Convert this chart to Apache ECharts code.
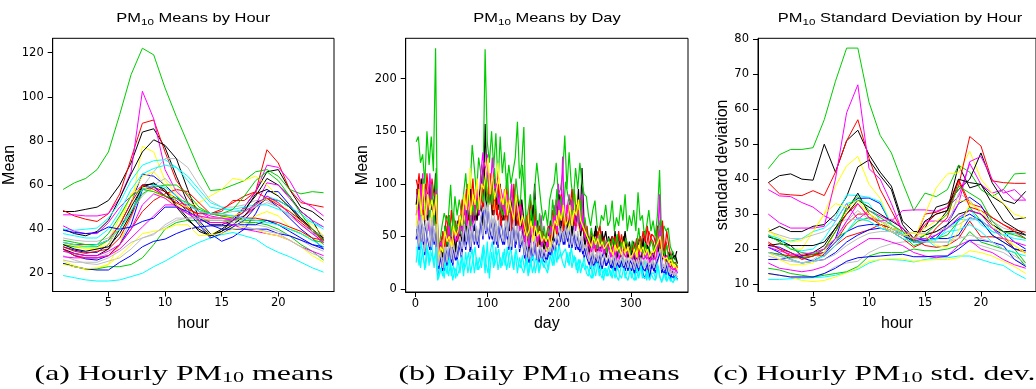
<!DOCTYPE html>
<html>
<head>
<meta charset="utf-8">
<script src="https://cdn.jsdelivr.net/npm/echarts@6/dist/echarts.min.js"></script>
<style>
  html, body { margin: 0; padding: 0; background: #fff; }
  #main { width: 1036px; height: 389px; }
</style>
</head>
<body>
<div id="main"></div>
<script>
// x values
const hours = [1, 2, 3, 4, 5, 6, 7, 8, 9, 10, 11, 12, 13, 14, 15, 16, 17, 18, 19, 20, 21, 22, 23, 24];
const days = Array.from({ length: 122 }, (_, i) => 1 + 3 * i);  // days 1, 4, ..., 364
const days2 = Array.from({ length: 122 }, (_, i) => 2 + 3 * i); // days 2, 5, ..., 365

// tick labels
const hourTicks = [5, 10, 15, 20];
const meanTicks = [20, 40, 60, 80, 100, 120];
const dayTicks = [0, 100, 200, 300];
const dayMeanTicks = [0, 50, 100, 150, 200];
const sdTicks = [10, 20, 30, 40, 50, 60, 70, 80];

// R default palette, stations cycle through it
const palette = ['#000000', '#FF0000', '#00CD00', '#0000FF', '#00FFFF', '#FF00FF', '#FFFF00', '#BEBEBE'];

// (a) hourly means, 4 stations per colour
const meansBlack = [
  [48, 48, 49, 50, 53, 60, 70, 84, 85.5, 77, 64, 52, 43, 37, 39, 44, 50, 57, 66, 67, 58, 50, 48, 44],
  [40, 38, 37, 39, 44, 54, 65, 75, 80.5, 78, 72, 58, 45, 42, 42, 44, 49, 55, 63, 60, 55, 48, 44, 35],
  [31, 29, 28, 28, 31, 40, 50, 59, 61, 57, 51, 45, 39, 37, 39, 42, 46, 52, 54, 53, 50, 45, 40, 36],
  [33, 31, 30, 31, 32, 38, 47, 60, 60.5, 58, 50, 44, 40, 37, 40, 44, 48, 56, 58, 55, 50, 44, 40, 35]
];
const meansRed = [
  [48.5, 46, 44.5, 43.5, 47, 56, 72, 88, 89.5, 75, 62, 55, 48, 47, 48, 53, 53, 57, 76, 70, 58, 52, 51, 50],
  [32, 30, 29, 30, 31, 36, 46, 58, 59, 57, 54, 50, 46, 43, 43, 44, 46, 50, 54, 52, 47, 43, 39, 36],
  [31, 28, 27, 27, 28, 33, 40, 48, 53, 56, 58, 57, 52, 47, 46, 46, 45, 45, 44, 43, 41, 39, 36, 35],
  [34, 33, 33, 33, 35, 42, 52, 60, 58, 55, 52, 49, 47, 47, 49, 52, 55, 57, 54, 51, 48, 44, 40, 34]
];
const meansGreen = [
  [58, 61, 63, 67, 75, 92, 110, 122, 119, 104, 91, 79, 67, 57.5, 58, 60, 62, 66, 67, 64, 58, 56, 57, 56.5],
  [24.5, 23, 22, 22, 23, 23, 24, 27, 33, 40, 43, 44, 44, 44, 44, 44, 43, 43, 42, 40, 37, 33, 30, 26],
  [33, 32, 32, 32, 35, 40, 48, 56, 59, 60, 60, 56, 50, 47, 46, 45, 44, 44, 44, 42, 40, 38, 35, 34],
  [35, 34, 33, 33, 38, 46, 55, 58, 57, 55, 54, 52, 49, 47, 47, 49, 55, 62, 66, 62, 55, 47, 40, 35]
];
const meansBlue = [
  [32, 30.5, 29.5, 29.5, 33, 42, 52, 65, 64, 60, 55, 49, 44, 38, 34.5, 36.5, 40, 47, 57, 57, 51, 45, 39, 33],
  [31, 28, 26.5, 26, 28, 33, 42, 58, 59.5, 55, 53, 48, 42, 36, 38, 41, 44, 50, 54, 50, 45, 40, 36, 31],
  [24.5, 23, 22, 21.5, 21.5, 25, 28, 32, 34.5, 35.5, 38, 40, 41, 41.5, 41.5, 42, 42, 42, 44, 42, 39, 36, 33, 31],
  [39.5, 38.5, 38, 38.5, 41, 40, 41, 43.5, 45, 50, 50, 48, 45, 42, 40, 40, 40, 40, 40, 38, 37, 35, 33, 32]
];
const meansCyan = [
  [19, 18, 17, 16.5, 16.5, 17, 18.5, 20, 23, 25.5, 28.5, 31.5, 34, 36, 37.5, 38.5, 37, 35.5, 32, 29.5, 27.5, 25, 22.5, 20.5],
  [40, 39.5, 40, 40.5, 45, 52, 62, 69, 71, 71.5, 68, 62, 56, 50, 49, 49, 50, 51, 51, 49, 47, 45, 43, 41],
  [38, 37, 36, 36, 40, 48, 58, 65, 67.5, 69, 68, 64, 58, 52, 50, 48, 48, 51, 55, 53, 50, 47, 43, 40],
  [34, 33, 32, 33, 35, 40, 48, 58, 60, 59, 55, 51, 48, 47, 47, 46, 45, 44, 43, 42, 40, 38, 35, 32]
];
const meansMagenta = [
  [46.5, 46.5, 46, 46, 47, 54, 66, 102.5, 90, 67, 57, 52, 48, 45, 45, 45, 50, 57, 69, 68, 62, 53, 50, 46],
  [41.5, 39, 38, 38, 43, 50, 55, 60, 59, 55, 52, 51, 48, 46, 45, 44, 46, 51, 61, 60, 54, 48, 44, 41],
  [27.5, 27, 27, 27, 28, 31, 36, 41, 46, 51, 51, 47, 44, 43, 43, 42, 40, 39, 38, 37, 35, 32, 30, 28],
  [30, 29, 28, 28, 30, 33, 40, 51, 56, 54, 50, 47, 46, 45, 45, 44, 48, 51, 55, 52, 47, 42, 38, 34]
];
const meansYellow = [
  [25.5, 23.5, 21.5, 22, 24, 33, 50, 77.5, 75, 62, 56, 50, 43, 37.5, 40, 41, 43, 46, 48, 46, 41, 38, 36, 33],
  [33, 32, 31, 31, 35, 45, 55, 64, 66, 60, 52, 50, 52, 55, 58, 63, 62, 64, 60, 55, 50, 45, 42, 37],
  [34, 32.5, 31.5, 31, 33, 42, 56, 59, 57, 54, 51, 48, 45, 45, 45, 46, 48, 51, 54, 52, 48, 44, 40, 35],
  [24, 23, 22, 22.5, 24, 28, 33, 38, 39, 40, 42, 42, 37, 37.5, 38, 40, 41, 40, 38, 37, 35, 32, 28, 25]
];
const meansGray = [
  [30, 28.5, 27, 27, 29, 33, 45, 59, 66, 72, 72, 68, 60, 53, 50, 50, 51, 53, 53, 50, 46, 42, 38, 35],
  [28, 26, 24.5, 24, 25.5, 27, 31, 36, 37.5, 42, 45, 45, 46, 45, 45, 44, 43, 42, 41, 39, 37, 35, 32, 30],
  [36, 35, 34.5, 34.5, 36, 42, 48, 55, 60, 63, 58, 52, 48, 47, 47, 48, 49, 50, 52, 50, 46, 42, 39, 37],
  [26, 25, 25, 25, 27, 30, 34, 36, 38, 41, 44, 45, 45, 44, 44, 43, 41, 40, 39, 38, 35, 32, 29, 27]
];

// (b) daily means, two traces per colour: first on days 1,4,..., second on days 2,5,...
const dayBlack = [
  80, 100, 70, 95, 60, 75, 65, 90, 70, 110,   20, 30, 40, 35, 55, 40, 50, 35, 60, 45,
  55, 45, 65, 50, 75, 60, 70, 55, 85, 70,     80, 60, 157, 95, 85, 110, 70, 90, 75, 100,
  70, 85, 60, 75, 65, 80, 90, 70, 60, 85,     65, 40, 50, 70, 55, 100, 45, 60, 40, 50,
  40, 35, 55, 60, 50, 80, 75, 55, 65, 45,     70, 60, 80, 90, 65, 75, 55, 115, 60, 45,
  50, 40, 45, 55, 35, 40, 50, 45, 55, 40,     45, 50, 35, 40, 50, 30, 40, 55, 35, 45,
  30, 45, 25, 40, 50, 30, 55, 35, 40, 30,     25, 40, 60, 45, 30, 35, 25, 30, 20, 36,
  28, 36
];
const dayBlack2 = [
  95, 70, 105, 80, 90, 65, 100, 75, 85, 60,   25, 45, 30, 60, 40, 70, 45, 55, 35, 65,
  50, 70, 45, 80, 60, 95, 55, 75, 65, 90,     100, 120, 85, 75, 95, 70, 105, 80, 90, 70,
  65, 90, 75, 55, 80, 95, 60, 85, 70, 55,     45, 60, 35, 55, 80, 50, 65, 40, 55, 35,
  50, 45, 65, 40, 70, 55, 90, 60, 75, 55,     60, 85, 50, 70, 60, 95, 50, 65, 40, 55,
  35, 50, 40, 60, 45, 35, 55, 40, 30, 50,     40, 35, 55, 30, 45, 35, 50, 40, 30, 38,
  35, 28, 45, 38, 25, 48, 30, 42, 28, 35,     30, 45, 35, 50, 28, 40, 22, 35, 25, 30,
  32, 24
];
const dayRed = [
  104, 95, 80, 100, 75, 110, 85, 95, 70, 80,  25, 40, 50, 45, 70, 55, 60, 40, 55, 50,
  70, 55, 80, 65, 100, 75, 85, 60, 90, 80,    95, 75, 110, 90, 100, 85, 70, 95, 65, 75,
  80, 65, 100, 70, 85, 60, 75, 90, 55, 70,    60, 45, 55, 85, 60, 70, 50, 55, 40, 55,
  45, 40, 50, 60, 55, 85, 70, 75, 60, 50,     80, 65, 70, 90, 75, 60, 70, 55, 65, 50,
  45, 35, 50, 40, 55, 45, 38, 50, 42, 40,     38, 50, 45, 35, 55, 40, 45, 35, 42, 38,
  35, 42, 30, 45, 50, 40, 38, 42, 55, 48,     45, 35, 50, 40, 60, 30, 45, 32, 25, 20,
  18, 22
];
const dayRed2 = [
  90, 110, 85, 70, 100, 90, 75, 105, 88, 95,  35, 30, 55, 40, 60, 45, 75, 50, 65, 45,
  60, 85, 70, 95, 55, 80, 105, 70, 95, 75,    85, 100, 95, 80, 110, 75, 90, 70, 100, 60,
  75, 95, 65, 85, 55, 100, 70, 60, 85, 65,    55, 70, 45, 60, 50, 75, 40, 60, 50, 45,
  50, 60, 45, 75, 65, 50, 80, 90, 55, 70,     65, 75, 95, 60, 80, 70, 85, 60, 50, 60,
  40, 55, 45, 35, 50, 60, 40, 48, 35, 45,     45, 35, 50, 40, 38, 52, 36, 48, 40, 34,
  42, 36, 48, 32, 40, 55, 45, 60, 40, 52,     50, 42, 60, 38, 65, 35, 55, 40, 30, 25,
  25, 20
];
const dayGreen = [
  140, 145, 120, 128, 100, 150, 118, 145, 112, 229, 30, 45, 60, 72, 65, 70, 99, 60, 88, 70,
  85, 72, 90, 110, 80, 95, 137, 115, 90, 125,      110, 95, 228, 140, 120, 150, 115, 148, 100, 145,
  110, 130, 95, 118, 100, 112, 125, 159, 105, 120, 154, 60, 75, 90, 70, 95, 120, 100, 80, 65,
  75, 60, 85, 95, 100, 120, 90, 95, 110, 146,      95, 130, 100, 85, 115, 95, 120, 100, 90, 88,
  70, 60, 75, 84, 60, 55, 70, 65, 80, 60,          65, 84, 55, 68, 60, 80, 65, 90, 55, 70,
  60, 75, 55, 92, 65, 70, 50, 60, 75, 55,          65, 50, 70, 113, 45, 60, 55, 58, 40, 35,
  30, 25
];
const dayGreen2 = [
  75, 95, 65, 105, 70, 90, 68, 100, 60, 115,       28, 40, 35, 60, 42, 70, 50, 72, 55, 62,
  52, 72, 55, 78, 90, 60, 80, 70, 85, 72,          95, 82, 110, 75, 95, 80, 115, 88, 85, 75,
  70, 88, 110, 72, 95, 70, 105, 85, 80, 118,       90, 55, 45, 75, 60, 85, 50, 72, 48, 60,
  45, 58, 52, 85, 65, 95, 72, 88, 68, 102,         90, 82, 70, 95, 72, 62, 85, 58, 68, 50,
  45, 58, 40, 48, 38, 52, 40, 46, 34, 48,          38, 48, 40, 52, 34, 45, 38, 48, 40, 32,
  46, 36, 42, 58, 38, 34, 44, 32, 40, 46,          36, 42, 55, 66, 38, 32, 42, 28, 32, 25,
  24, 22
];
const dayBlue = [
  47, 65, 37, 59, 32, 52, 67, 37, 57, 45,     12, 25, 32, 17, 39, 27, 45, 22, 37, 27,
  42, 29, 55, 37, 59, 35, 65, 42, 57, 39,     67, 47, 82, 59, 47, 67, 42, 62, 39, 65,
  57, 42, 65, 37, 55, 59, 39, 67, 35, 52,     42, 25, 37, 49, 27, 42, 29, 25, 39, 27,
  25, 29, 37, 32, 49, 42, 55, 45, 59, 42,     57, 39, 52, 62, 37, 52, 35, 47, 29, 39,
  29, 19, 35, 23, 33, 19, 29, 35, 22, 25,     27, 19, 31, 17, 27, 21, 31, 17, 27, 21,
  17, 27, 15, 25, 29, 17, 10, 15, 23, 19,     25, 15, 25, 42, 15, 21, 13, 25, 9, 17,
  10, 15
];
const dayBlue2 = [
  57, 37, 67, 42, 62, 47, 37, 65, 42, 59,     19, 32, 17, 37, 22, 42, 25, 39, 27, 37,
  47, 35, 59, 42, 62, 37, 57, 62, 42, 55,     69, 75, 52, 79, 55, 47, 67, 42, 62, 49,
  42, 62, 47, 69, 37, 62, 42, 57, 39, 47,     29, 43, 25, 41, 29, 47, 25, 39, 27, 35,
  27, 35, 32, 43, 35, 49, 39, 55, 42, 57,     45, 57, 39, 53, 42, 37, 47, 33, 39, 29,
  23, 32, 21, 30, 23, 33, 19, 30, 22, 29,     20, 28, 17, 25, 20, 27, 19, 26, 17, 27,
  23, 15, 25, 17, 27, 19, 17, 25, 9, 24,      17, 24, 29, 35, 17, 15, 23, 13, 12, 11,
  12, 9
];
const dayCyan = [
  25, 45, 20, 38, 18, 42, 22, 48, 25, 35,     8, 15, 22, 10, 28, 12, 25, 8, 20, 12,
  18, 30, 12, 35, 15, 28, 38, 15, 30, 18,     25, 40, 15, 45, 10, 35, 20, 40, 18, 30,
  22, 38, 18, 30, 40, 20, 35, 15, 30, 20,     15, 28, 12, 30, 15, 25, 32, 15, 28, 22,
  20, 15, 30, 35, 22, 40, 28, 35, 25, 20,     35, 22, 40, 25, 30, 15, 28, 20, 30, 15,
  12, 25, 10, 20, 28, 12, 22, 8, 20, 12,      18, 10, 25, 12, 8, 20, 28, 10, 18, 22,
  10, 18, 8, 15, 25, 10, 30, 8, 20, 15,       10, 8, 25, 12, 6, 15, 8, 20, 7, 12,
  8, 15
];
const dayCyan2 = [
  40, 22, 45, 28, 20, 38, 25, 35, 20, 40,     10, 20, 12, 25, 14, 30, 12, 22, 10, 28,
  15, 32, 18, 25, 35, 15, 28, 40, 18, 30,     20, 42, 25, 15, 35, 45, 22, 30, 38, 20,
  35, 22, 40, 20, 32, 18, 38, 25, 20, 32,     18, 30, 15, 25, 32, 15, 28, 18, 30, 20,
  28, 18, 32, 22, 38, 25, 42, 30, 35, 38,     25, 35, 20, 32, 18, 28, 15, 25, 18, 22,
  15, 10, 22, 12, 25, 15, 10, 20, 12, 22,     12, 20, 10, 22, 14, 10, 20, 12, 8, 18,
  12, 8, 20, 10, 22, 12, 10, 18, 8, 15,       15, 9, 22, 10, 8, 15, 7, 12, 8, 6,
  12, 8
];
const dayMagenta = [
  70, 85, 60, 110, 65, 80, 55, 95, 60, 75,    22, 35, 30, 50, 40, 55, 35, 45, 30, 60,
  50, 65, 45, 75, 60, 55, 70, 90, 65, 75,     110, 130, 100, 128, 95, 80, 105, 85, 110, 90,
  75, 95, 70, 80, 65, 90, 60, 75, 55, 65,     50, 40, 65, 45, 55, 35, 60, 45, 70, 40,
  35, 45, 55, 40, 80, 65, 100, 60, 126, 55,   75, 90, 60, 80, 55, 70, 65, 90, 45, 55,
  30, 40, 35, 50, 30, 45, 35, 40, 30, 45,     35, 30, 40, 25, 45, 35, 30, 40, 28, 35,
  30, 25, 38, 30, 25, 35, 40, 28, 32, 25,     30, 28, 40, 90, 25, 35, 22, 28, 18, 15,
  15, 20
];
const dayMagenta2 = [
  90, 65, 100, 75, 95, 70, 110, 80, 70, 95,   30, 45, 38, 55, 45, 60, 40, 55, 45, 50,
  60, 55, 80, 60, 85, 70, 60, 80, 95, 70,     95, 120, 115, 105, 90, 125, 95, 100, 80, 95,
  85, 70, 90, 75, 100, 65, 85, 70, 80, 60,    45, 55, 40, 60, 50, 65, 45, 55, 40, 50,
  45, 40, 60, 50, 70, 55, 85, 70, 95, 65,     80, 65, 85, 70, 60, 75, 55, 70, 50, 45,
  40, 35, 45, 38, 50, 35, 42, 32, 45, 38,     30, 40, 32, 38, 28, 40, 34, 30, 36, 30,
  28, 35, 25, 32, 38, 28, 30, 35, 25, 30,     35, 25, 45, 60, 30, 28, 32, 22, 20, 18,
  20, 15
];
const dayYellow = [
  60, 90, 75, 65, 85, 70, 95, 60, 80, 65,     20, 30, 45, 35, 50, 45, 60, 40, 55, 48,
  60, 75, 55, 85, 70, 115, 80, 95, 70, 85,    90, 115, 120, 100, 80, 95, 75, 100, 120, 80,
  90, 70, 85, 60, 95, 70, 80, 65, 75, 60,     55, 45, 70, 50, 60, 45, 55, 40, 50, 45,
  40, 35, 45, 60, 50, 70, 60, 85, 55, 65,     70, 55, 80, 65, 90, 60, 55, 70, 50, 45,
  40, 35, 45, 50, 38, 55, 40, 35, 45, 38,     35, 40, 30, 45, 35, 40, 50, 30, 38, 32,
  28, 35, 40, 25, 45, 30, 35, 40, 28, 32,     40, 30, 55, 35, 28, 30, 25, 35, 22, 28,
  20, 25
];
const dayYellow2 = [
  75, 95, 70, 100, 65, 90, 75, 85, 70, 90,    28, 40, 35, 55, 45, 50, 40, 60, 50, 55,
  70, 60, 90, 75, 100, 70, 90, 80, 105, 75,   100, 95, 110, 125, 90, 110, 85, 95, 105, 90,
  80, 95, 70, 85, 75, 65, 90, 75, 60, 70,     60, 50, 55, 65, 45, 60, 50, 55, 45, 50,
  45, 50, 40, 55, 65, 60, 75, 65, 80, 60,     65, 80, 60, 75, 70, 85, 65, 60, 55, 50,
  45, 40, 50, 42, 48, 40, 45, 38, 42, 45,     38, 32, 42, 36, 40, 32, 45, 35, 40, 30,
  32, 38, 30, 42, 35, 40, 32, 38, 30, 35,     35, 40, 45, 50, 32, 28, 30, 25, 28, 22,
  22, 18
];
const dayGray = [
  50, 68, 40, 62, 35, 55, 70, 40, 60, 48,     15, 28, 35, 20, 42, 30, 48, 25, 40, 30,
  45, 32, 58, 40, 62, 38, 68, 45, 60, 42,     70, 50, 85, 62, 50, 70, 45, 65, 42, 68,
  60, 45, 68, 40, 58, 62, 42, 70, 38, 55,     45, 28, 40, 52, 30, 45, 32, 28, 42, 30,
  28, 32, 40, 35, 52, 45, 58, 48, 62, 45,     60, 42, 55, 65, 40, 55, 38, 50, 32, 42,
  32, 22, 38, 26, 36, 22, 32, 38, 25, 28,     30, 22, 34, 20, 30, 24, 34, 20, 30, 24,
  20, 30, 18, 28, 32, 20, 30, 18, 26, 22,     28, 18, 28, 45, 18, 24, 16, 28, 14, 20,
  12, 18
];
const dayGray2 = [
  60, 40, 70, 45, 65, 50, 40, 68, 45, 62,     22, 35, 20, 40, 25, 45, 28, 42, 30, 40,
  50, 38, 62, 45, 65, 40, 60, 65, 45, 58,     72, 78, 55, 82, 58, 50, 70, 45, 65, 52,
  45, 65, 50, 72, 40, 65, 45, 60, 42, 50,     32, 46, 28, 44, 32, 50, 28, 42, 30, 38,
  30, 38, 35, 46, 38, 52, 42, 58, 45, 60,     48, 60, 42, 56, 45, 40, 50, 36, 42, 32,
  26, 35, 24, 33, 26, 36, 22, 33, 25, 32,     23, 31, 20, 28, 23, 30, 22, 29, 20, 30,
  26, 18, 28, 20, 30, 22, 20, 28, 18, 27,     20, 27, 32, 38, 20, 18, 26, 16, 15, 14,
  15, 11
];

// (c) hourly standard deviations, 4 stations per colour
const sdBlack = [
  [39, 41, 41.5, 40, 39.7, 50, 42, 51, 54, 47, 42, 38, 28, 25, 25, 27, 31, 44, 37.5, 38.5, 35, 33, 28.5, 29],
  [25, 26.5, 25, 25, 26.5, 27, 30, 35, 43.5, 45.5, 41, 37, 27, 23, 26, 32, 33, 37, 40, 47.5, 39, 34, 33, 36.5],
  [23.5, 22.5, 21, 18, 19, 21, 26, 31, 36, 30, 27, 25, 24, 23, 28, 30, 31, 40, 39, 38.5, 33, 28, 26, 24],
  [21, 21.5, 21, 21, 21, 22, 26, 30, 34, 32, 30, 28, 26, 22, 24, 25, 27, 30, 31, 30, 27, 25, 25, 24]
];
const sdRed = [
  [39, 35.8, 35.5, 35.3, 36.7, 35.3, 42, 51, 57, 46, 37, 31, 25, 22, 30, 30.5, 32, 40, 33, 32, 29, 27, 25.5, 24.8],
  [22, 20, 18, 17.5, 18, 19, 22, 27, 30, 30, 28, 26, 24, 22.5, 27, 30, 31, 38, 52.2, 49.5, 39.5, 39, 38.8, 38.8],
  [19, 18.5, 18, 18, 18.5, 18, 21, 23.5, 24.5, 25.5, 27, 26, 25, 23, 21, 20.5, 21, 23, 28, 23.5, 23.5, 23, 20, 19],
  [21.5, 20, 19, 17, 18, 20, 25, 30, 33, 29, 27, 25, 23, 20.5, 22, 26, 29, 39.5, 32, 31, 29, 27, 25, 23]
];
const sdGreen = [
  [43, 47, 48.5, 48.5, 49, 57, 68, 77.5, 77.5, 62, 52.5, 47.5, 39, 31, 36, 35, 37, 44, 42, 37, 35, 37, 41.5, 41.7],
  [14.5, 14, 13, 12.5, 12, 12.5, 13, 13.5, 15, 18, 19, 19, 19, 20, 19.5, 19.5, 20, 21, 25, 22, 21, 20, 19, 15],
  [19, 18.5, 17.5, 17.5, 18, 20, 23, 25, 28, 29, 28, 26, 24, 21, 22, 23, 24, 28, 32, 28, 24, 22, 20, 16],
  [24, 22, 20, 19, 18.5, 20, 25, 32, 35, 31, 29, 27, 25, 22, 24, 27, 30, 38, 36, 34, 28, 25, 24, 23]
];
const sdBlue = [
  [17, 17, 17.5, 18, 18.5, 19, 23, 32, 34.5, 34.6, 33, 27, 24, 22.5, 22.5, 23, 27, 33, 34.8, 32.5, 27, 25, 22, 20],
  [20.5, 19, 17, 16, 16.5, 18.5, 22, 25, 26.5, 27, 27, 26, 24, 23, 22.5, 23, 23, 24, 29, 28, 26, 24, 20, 19.5],
  [21, 20.5, 19, 17.5, 16.5, 17, 19, 22, 24, 25.5, 26, 25, 24, 22, 22, 24, 26, 28.5, 30, 28, 24, 22, 20, 19.5],
  [13, 12.5, 12, 12, 12, 13, 14.5, 16.5, 17.5, 17.8, 18, 18.3, 18.5, 17.8, 17.8, 18, 18, 20, 22.5, 22.5, 22, 21, 17, 15]
];
const sdCyan = [
  [11.3, 11.3, 11.5, 11.7, 11.8, 12, 12.5, 13.3, 14.2, 16, 17, 17, 16.8, 16.3, 17, 17.5, 17.5, 18, 18, 17, 16, 15.3, 13.2, 11.5],
  [23.5, 22.5, 22.3, 23, 25, 26, 29, 35.5, 35.3, 34.8, 33.5, 27, 24.5, 23, 23, 20.5, 21, 28.5, 28.3, 28.5, 25, 24, 23, 22.5],
  [24, 23, 20, 19.5, 20, 23, 28, 33, 34, 33, 28, 26, 24, 23, 23, 22.5, 26, 28, 31.5, 27, 25, 24, 24.5, 24],
  [19, 18, 17, 16, 16.5, 18, 21, 25, 29, 28, 26, 25, 23, 22, 22, 23, 25, 25.5, 27, 25, 22, 20, 19, 18]
];
const sdMagenta = [
  [37, 35.2, 35, 33.3, 32, 29.5, 28, 33, 28.5, 31, 29.5, 28, 31, 31.2, 31.2, 30.8, 32, 35, 44.5, 38.5, 36, 37, 34, 34],
  [30, 27.5, 26, 26, 26, 26.5, 40, 59, 67, 43, 40, 33, 25, 22, 28, 28, 28, 33, 45, 46.5, 40, 36, 37, 34],
  [16, 14.5, 14, 13.5, 14, 15, 17, 19, 21, 23, 23, 22, 21, 19, 18, 17.5, 18, 21, 22.5, 20, 19, 17, 15.5, 14.5],
  [20.5, 19.5, 18.5, 18.5, 19, 20, 23, 28, 33, 29, 28, 28.5, 26, 23, 23, 24, 26, 29, 31, 30, 26, 23, 22, 21]
];
const sdYellow = [
  [26, 22, 20, 20, 25, 30, 38, 43.8, 46.5, 38.5, 34.5, 27, 24, 22.5, 30, 37.5, 41.5, 41.8, 48, 40, 36, 33, 30, 28.8],
  [12.8, 12.5, 12, 11, 10.7, 11, 12, 13.2, 14.5, 16.5, 17, 17.2, 17.2, 16.5, 16.8, 17, 17, 17.5, 19.5, 19, 18, 16.5, 15, 13],
  [19, 17, 15.5, 15.5, 16, 19, 25, 31, 33, 30, 28, 26, 25, 23, 26, 28, 30, 34, 33.5, 30, 26, 23, 21, 19],
  [25, 23.5, 22, 22.5, 25, 30, 33, 32, 34, 30, 27, 25, 24, 24.5, 24, 21, 20.5, 25, 33, 31, 27, 24, 21, 18.5]
];
const sdGray = [
  [13, 12.5, 12, 12, 12, 13, 15, 16, 16.5, 19, 20.5, 21.5, 22, 22.3, 22, 22, 22, 24, 22, 21, 20, 19, 17, 15.5],
  [18, 17, 16.5, 16, 17, 19, 22, 28, 31, 28.5, 28, 27, 24, 23, 24, 25, 26, 27, 29, 28, 26, 25, 24.5, 23],
  [25, 24, 23, 23, 24, 25, 27, 28.5, 28.5, 28, 26, 25.5, 25, 24.5, 24.5, 25, 26, 36, 34, 30, 28, 26, 25, 24],
  [19, 18, 17, 16, 16.5, 17, 18.5, 21, 23, 24.5, 25, 25, 24, 23, 22, 22, 22, 23, 24, 23, 22, 20, 18, 16]
];

// build line series, stations cycle through the palette like matplot
function stationSeries(groups, xsList, idx, lw) {
  const out = [];
  for (let k = 0; k < groups[0].length; k++) {
    const xs = xsList[k % xsList.length];
    groups.forEach((g, c) => {
      out.push({
        type: 'line',
        xAxisIndex: idx,
        yAxisIndex: idx,
        data: g[k].map((v, i) => [xs[i], v]),
        symbol: 'none',
        silent: true,
        lineStyle: { width: lw, color: palette[c] },
        itemStyle: { color: palette[c] }
      });
    });
  }
  return out;
}

const tickFont = { fontFamily: 'DejaVu Sans', fontSize: 11.5, color: '#000' };
const nameFont = { fontFamily: 'Liberation Sans', fontSize: 16, color: '#000' };

function makeAxis(grid, min, max, ticks, name, isY) {
  return {
    type: 'value',
    gridIndex: grid,
    min: min,
    max: max,
    name: name,
    nameLocation: 'middle',
    nameGap: isY ? 25.5 : 24,
    nameTextStyle: nameFont,
    splitLine: { show: false },
    axisLine: { show: true, onZero: false, lineStyle: { color: '#000', width: 1 } },
    axisTick: { show: true, length: 5, customValues: ticks, lineStyle: { color: '#000', width: 1 } },
    axisLabel: Object.assign({ customValues: ticks, margin: isY ? 9 : 6 }, tickFont)
  };
}

const titleRich = {
  n: { fontFamily: 'Liberation Sans', fontSize: 13.5, fill: '#000' },
  s: { fontFamily: 'Liberation Sans', fontSize: 9.5, fill: '#000', padding: [8, 0, 0, 0] }
};
const capRich = {
  n: { fontFamily: 'Liberation Serif', fontSize: 21.5, fill: '#000' },
  s: { fontFamily: 'Liberation Serif', fontSize: 15, fill: '#000', padding: [8, 0, 0, 0] }
};

function textItem(x, y, str, rich, sx, align) {
  return {
    type: 'text',
    x: x,
    y: y,
    scaleX: sx,
    silent: true,
    style: {
      text: str,
      rich: rich,
      fill: '#000',
      align: align, textAlign: align,
      verticalAlign: 'middle', textVerticalAlign: 'middle'
    }
  };
}

const chart = echarts.init(document.getElementById('main'), null, { renderer: 'canvas' });

const gridStyle = { show: true, borderColor: '#000', borderWidth: 1, backgroundColor: 'transparent', containLabel: false };

chart.setOption({
  animation: false,
  backgroundColor: '#fff',
  grid: [
    Object.assign({ left: 52.7, top: 38.3, width: 281.3, height: 253.2 }, gridStyle),
    Object.assign({ left: 405.7, top: 38.3, width: 282.3, height: 253.7 }, gridStyle),
    Object.assign({ left: 758, top: 38.3, width: 284.4, height: 253.2 }, gridStyle)
  ],
  xAxis: [
    makeAxis(0, 0.08, 24.92, hourTicks, 'hour', false),
    makeAxis(1, -13.6, 379.6, dayTicks, 'day', false),
    makeAxis(2, 0.08, 24.92, hourTicks, 'hour', false)
  ],
  yAxis: [
    makeAxis(0, 11.75, 126.5, meanTicks, 'Mean', true),
    makeAxis(1, -3, 238.5, dayMeanTicks, 'Mean', true),
    makeAxis(2, 7.85, 80.3, sdTicks, 'standard deviation', true)
  ],
  series: [].concat(
    stationSeries([meansBlack, meansRed, meansGreen, meansBlue, meansCyan, meansMagenta, meansYellow, meansGray], [hours], 0, 1),
    stationSeries([
      [dayBlack, dayBlack2], [dayRed, dayRed2], [dayGreen, dayGreen2], [dayBlue, dayBlue2],
      [dayCyan, dayCyan2], [dayMagenta, dayMagenta2], [dayYellow, dayYellow2], [dayGray, dayGray2]
    ], [days, days2], 1, 1.2),
    stationSeries([sdBlack, sdRed, sdGreen, sdBlue, sdCyan, sdMagenta, sdYellow, sdGray], [hours], 2, 1)
  ),
  graphic: [
    textItem(193.3, 18.5, '{n|PM}{s|10}{n| Means by Hour}', titleRich, 1.22, 'center'),
    textItem(547, 18.5, '{n|PM}{s|10}{n| Means by Day}', titleRich, 1.22, 'center'),
    textItem(900, 18.5, '{n|PM}{s|10}{n| Standard Deviation by Hour}', titleRich, 1.22, 'center'),
    textItem(184, 374.5, '{n|(a) Hourly PM}{s|10}{n| means}', capRich, 1.48, 'center'),
    textItem(539, 374.5, '{n|(b) Daily PM}{s|10}{n| means}', capRich, 1.48, 'center'),
    textItem(713, 374.5, '{n|(c) Hourly PM}{s|10}{n| std. dev.}', capRich, 1.48, 'left')
  ]
});
</script>
</body>
</html>
